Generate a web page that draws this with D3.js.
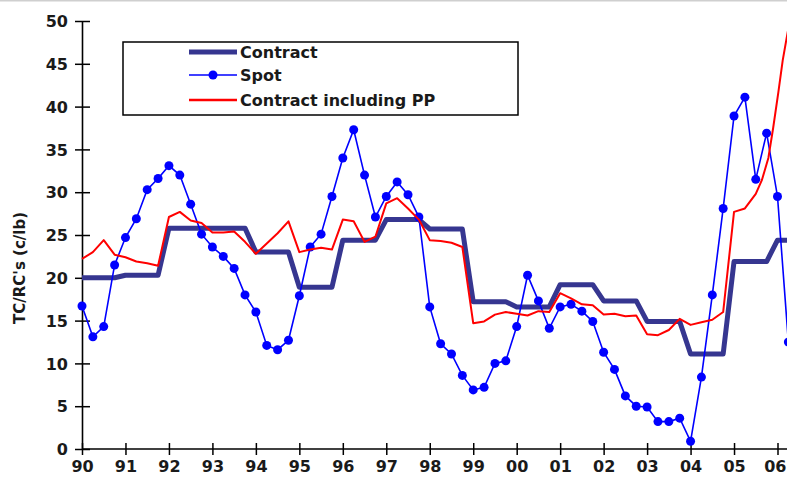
<!DOCTYPE html>
<html>
<head>
<meta charset="utf-8">
<script src="https://cdn.jsdelivr.net/npm/d3@7"></script>
<style>
  html, body { margin: 0; padding: 0; background: #fff; }
  svg { display: block; }
  text { font-family: "DejaVu Sans", Verdana, sans-serif; font-weight: bold; fill: #1a1a1a; }
</style>
</head>
<body>
<svg id="chart" width="787" height="482"></svg>
<script>
// ---------------- DATA ----------------
const startYear = 1990;           // first quarter of the series
const xTickYears = d3.range(1990, 2007);
const xTickLabels = ["90","91","92","93","94","95","96","97","98","99","00","01","02","03","04","05","06"];
const yTickValues = [0, 5, 10, 15, 20, 25, 30, 35, 40, 45, 50];

// Contract TC/RC (quarterly, from 1990 Q1)
const contract = [
  20.0, 20.0, 20.0, 20.0,
  20.3, 20.3, 20.3, 20.3,
  25.8, 25.8, 25.8, 25.8,
  25.8, 25.8, 25.8, 25.8,
  23.0, 23.0, 23.0, 23.0,
  18.9, 18.9, 18.9, 18.9,
  24.4, 24.4, 24.4, 24.4,
  26.8, 26.8, 26.8, 26.8,
  25.7, 25.7, 25.7, 25.7,
  17.2, 17.2, 17.2, 17.2,
  16.6, 16.6, 16.6, 16.6,
  19.2, 19.2, 19.2, 19.2,
  17.3, 17.3, 17.3, 17.3,
  14.9, 14.9, 14.9, 14.9,
  11.1, 11.1, 11.1, 11.1,
  21.9, 21.9, 21.9, 21.9,
  24.4, 24.4
];

// Spot TC/RC (quarterly, from 1990 Q1)
const spot = [
  16.7, 13.1, 14.3, 21.5,
  24.7, 26.9, 30.3, 31.6,
  33.1, 32.0, 28.6, 25.1,
  23.6, 22.5, 21.1, 18.0,
  16.0, 12.1, 11.6, 12.7,
  17.9, 23.6, 25.1, 29.5,
  34.0, 37.3, 32.0, 27.1,
  29.5, 31.2, 29.7, 27.1,
  16.6, 12.3, 11.1, 8.6,
  6.9, 7.2, 10.0, 10.3,
  14.3, 20.3, 17.3, 14.1,
  16.6, 16.9, 16.1, 14.9,
  11.3, 9.3, 6.2, 5.0,
  4.9, 3.2, 3.2, 3.6,
  0.9, 8.4, 18.0, 28.1,
  38.9, 41.1, 31.5, 36.9,
  29.5, 12.5
];

// Contract including price participation (quarterly up to 2005 Q3)
const contractPP = [
  22.2, 23.0, 24.4, 22.7,
  22.4, 21.9, 21.7, 21.4,
  27.1, 27.7, 26.7, 26.4,
  25.3, 25.3, 25.4, 24.2,
  22.8, 24.0, 25.2, 26.6,
  23.0, 23.3, 23.5, 23.3,
  26.8, 26.6, 24.2, 24.8,
  28.7, 29.3, 28.1, 26.8,
  24.4, 24.3, 24.1, 23.6,
  14.7, 14.9, 15.7, 16.0,
  15.8, 15.6, 16.1, 16.0,
  18.2, 17.6, 16.9, 16.8,
  15.7, 15.8, 15.5, 15.6,
  13.4, 13.3, 13.9, 15.2,
  14.5, 14.8, 15.1, 16.0,
  27.7, 28.1, 29.8
];
// finer readings at the end of the PP series
const contractPPTailYears  = [2005.64, 2005.79, 2005.90, 2006.02, 2006.12, 2006.21, 2006.30];
const contractPPTailValues = [31.4, 34.0, 37.5, 41.7, 45.4, 48.0, 50.5];

const legendLabels = ["Contract", "Spot", "Contract including PP"];

// ---------------- CHART ----------------
const svg = d3.select("#chart");
const W = 787, H = 482;

const x = d3.scaleLinear().domain([1990, 2006]).range([82, 777.5]);
const y = d3.scaleLinear().domain([0, 50]).range([449, 21]);

const q = (arr) => arr.map((v, i) => ({ t: startYear + i / 4, v }));
const contractData = q(contract);
const spotData = q(spot);
const ppData = q(contractPP).concat(contractPPTailYears.map((t, i) => ({ t, v: contractPPTailValues[i] })));

// top border strip
svg.append("rect").attr("x", 0).attr("y", 0).attr("width", W).attr("height", 1.5).attr("fill", "#cfcfcf");

// Y axis
const yAxis = svg.append("g")
  .attr("transform", `translate(${x(1990)},0)`)
  .call(d3.axisLeft(y).tickValues(yTickValues).tickSizeOuter(0).tickSizeInner(7).tickPadding(7));
yAxis.select(".domain").attr("stroke", "#000").attr("stroke-width", 1.6);
yAxis.selectAll(".tick line").attr("x1", 8).attr("x2", -7).attr("stroke", "#000").attr("stroke-width", 1.5);
yAxis.selectAll(".tick text").attr("font-size", 16).attr("font-family", null).attr("dy", "0.36em").attr("fill", "#1a1a1a");

// X axis
const xAxis = svg.append("g")
  .attr("transform", `translate(0,${y(0)})`)
  .call(d3.axisBottom(x).tickValues(xTickYears).tickFormat((d, i) => xTickLabels[i]).tickSizeOuter(0).tickSizeInner(6));
xAxis.select(".domain").remove();
xAxis.append("line").attr("x1", x(1990)).attr("x2", W).attr("y1", 0).attr("y2", 0)
  .attr("stroke", "#000").attr("stroke-width", 1.6);
xAxis.selectAll(".tick line").attr("y1", -6).attr("y2", 6).attr("stroke", "#000").attr("stroke-width", 1.5);
xAxis.selectAll(".tick text").attr("font-size", 16).attr("font-family", null).attr("y", 23).attr("dy", 0).attr("fill", "#1a1a1a");
// keep the last label inside the picture
xAxis.selectAll(".tick text").filter((d, i) => i === xTickYears.length - 1)
  .attr("text-anchor", "end").attr("x", W - x(2006) - 1);

// Y axis title
svg.append("text")
  .attr("transform", `translate(25,268) rotate(-90)`)
  .attr("text-anchor", "middle")
  .attr("font-size", 15)
  .text("TC/RC's (c/lb)");

const line = d3.line().x(d => x(d.t)).y(d => y(d.v));

// Contract
svg.append("path").datum(contractData)
  .attr("d", line).attr("fill", "none")
  .attr("stroke", "#363690").attr("stroke-width", 5).attr("stroke-linejoin", "round");

// Spot
svg.append("path").datum(spotData)
  .attr("d", line).attr("fill", "none")
  .attr("stroke", "#0000ff").attr("stroke-width", 1.6);
svg.append("g").selectAll("circle").data(spotData).join("circle")
  .attr("cx", d => x(d.t)).attr("cy", d => y(d.v)).attr("r", 4.5).attr("fill", "#0000ff");

// Contract including PP
svg.append("path").datum(ppData)
  .attr("d", line).attr("fill", "none")
  .attr("stroke", "#ff0000").attr("stroke-width", 2).attr("stroke-linejoin", "round");

// Legend
const lg = svg.append("g");
lg.append("rect").attr("x", 123).attr("y", 42).attr("width", 395).attr("height", 73)
  .attr("fill", "#fff").attr("stroke", "#000").attr("stroke-width", 1.5);
const rows = [
  { y: 52, color: "#363690", w: 5, marker: false },
  { y: 75, color: "#0000ff", w: 1.6, marker: true },
  { y: 100, color: "#ff0000", w: 2.5, marker: false }
];
rows.forEach((r, i) => {
  lg.append("line").attr("x1", 189).attr("x2", 237).attr("y1", r.y).attr("y2", r.y)
    .attr("stroke", r.color).attr("stroke-width", r.w);
  if (r.marker) lg.append("circle").attr("cx", 213).attr("cy", r.y).attr("r", 4.5).attr("fill", r.color);
  lg.append("text").attr("x", 240).attr("y", r.y + 6).attr("font-size", 16).text(legendLabels[i]);
});
</script>
</body>
</html>
